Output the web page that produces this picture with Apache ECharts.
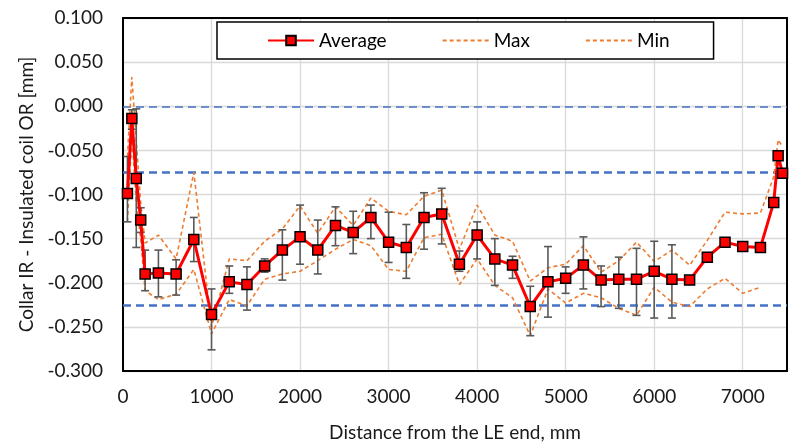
<!DOCTYPE html>
<html>
<head>
<meta charset="utf-8">
<script src="https://cdn.jsdelivr.net/npm/echarts@6/dist/echarts.min.js"></script>
<style>
html, body { margin: 0; padding: 0; background: #fff; }
#chart { width: 794px; height: 443px; }
</style>
</head>
<body>
<div id="chart"></div>
<script>
// distance from LE end, mm
var xs = [50, 100, 150, 200, 250, 400, 600, 800, 1000, 1200, 1400, 1600, 1800, 2000, 2200, 2400, 2600, 2800, 3000, 3200,
  3400, 3600, 3800, 4000, 4200, 4400, 4600, 4800, 5000, 5200, 5400, 5600, 5800, 6000, 6200, 6400, 6600, 6800, 7000, 7200,
  7350, 7400, 7450];
var avgVals = [-0.099, -0.014, -0.082, -0.129, -0.190, -0.189, -0.190, -0.151, -0.236, -0.199, -0.202, -0.181, -0.163, -0.148, -0.163, -0.135, -0.143, -0.126, -0.154, -0.160,
  -0.126, -0.122, -0.179, -0.146, -0.173, -0.180, -0.227, -0.199, -0.195, -0.180, -0.197, -0.196, -0.196, -0.187, -0.196, -0.197, -0.171, -0.154, -0.159, -0.160,
  -0.109, -0.056, -0.076];
var maxVals = [-0.057, 0.033, -0.040, -0.110, -0.155, -0.146, -0.173, -0.075, -0.250, -0.173, -0.175, -0.153, -0.139, -0.113, -0.144, -0.114, -0.135, -0.104, -0.119, -0.123,
  -0.102, -0.095, -0.162, -0.112, -0.146, -0.153, -0.198, -0.183, -0.179, -0.158, -0.188, -0.175, -0.154, -0.176, -0.163, -0.180, -0.152, -0.120, -0.122, -0.121,
  -0.080, -0.038, -0.046];
var minVals = [-0.131, -0.030, -0.110, -0.150, -0.209, -0.219, -0.213, -0.185, -0.258, -0.219, -0.226, -0.196, -0.190, -0.187, -0.175, -0.162, -0.151, -0.158, -0.185, -0.187,
  -0.149, -0.145, -0.202, -0.173, -0.203, -0.217, -0.260, -0.207, -0.223, -0.212, -0.217, -0.229, -0.237, -0.205, -0.222, -0.227, -0.207, -0.195, -0.212, -0.205,
  null, null, null];
// error bar ends (null = no bar)
var errHi = [-0.057, -0.004, -0.003, -0.115, -0.163, -0.163, -0.174, -0.126, -0.207, -0.181, -0.182, -0.173, -0.140, -0.112, -0.129, -0.114, -0.119, -0.112, -0.120, -0.134,
  -0.098, -0.093, -0.164, -0.131, -0.150, -0.170, -0.204, -0.159, -0.182, -0.148, -0.181, -0.171, -0.161, -0.153, -0.157, null, null, null, null, null,
  null, null, null];
var errLo = [-0.131, -0.026, -0.160, -0.143, -0.209, -0.216, -0.214, -0.176, -0.276, -0.212, -0.231, -0.188, -0.197, -0.179, -0.190, -0.158, -0.167, -0.150, -0.177, -0.195,
  -0.162, -0.156, -0.187, -0.173, -0.203, -0.195, -0.260, -0.239, -0.212, -0.207, -0.227, -0.229, -0.237, -0.240, -0.240, null, null, null, null, null,
  null, null, null];
var refLines = [0, -0.075, -0.225];
var seriesNames = ['Average', 'Max', 'Min'];

var FONT = 'Lato, "Open Sans", sans-serif';
var FS = 19;

function pairs(vals) {
  return xs.map(function (x, i) { return [x, vals[i]]; });
}
var errData = [];
xs.forEach(function (x, i) {
  if (errHi[i] != null) errData.push([x, errLo[i], errHi[i]]);
});

var myChart = echarts.init(document.getElementById('chart'));
var option = {
  animation: false,
  textStyle: { fontFamily: FONT },
  grid: { left: 123, right: 7, top: 18, bottom: 72, outerBoundsMode: 'none' },
  legend: {
    data: seriesNames.map(function (n, i) {
      // dashed series: show only the line in the legend
      return i === 0 ? { name: n } : { name: n, itemStyle: { opacity: 0 } };
    }),
    left: 217,
    top: 22,
    padding: [9, 44, 9, 50],
    itemGap: 55,
    itemWidth: 46,
    itemHeight: 12,
    backgroundColor: '#fff',
    borderColor: '#000',
    borderWidth: 1.5,
    textStyle: { fontFamily: FONT, fontSize: FS, color: '#000' }
  },
  xAxis: [{
    type: 'value',
    min: 0,
    max: 7500,
    interval: 1000,
    name: 'Distance from the LE end, mm',
    nameLocation: 'middle',
    nameGap: 52,
    nameTextStyle: { fontFamily: FONT, fontSize: FS, color: '#1a1a1a' },
    axisLine: { show: true, onZero: false, lineStyle: { color: '#000', width: 2 } },
    axisTick: { show: false },
    axisLabel: {
      fontFamily: FONT, fontSize: FS, color: '#1a1a1a', margin: 16, showMaxLabel: false,
      formatter: function (v) { return String(Math.round(v)); }
    },
    splitLine: { show: true, lineStyle: { color: '#d9d9d9', width: 1.3 } }
  }, {
    type: 'value',
    min: 0,
    max: 7500,
    position: 'top',
    axisLine: { show: true, onZero: false, lineStyle: { color: '#000', width: 2 } },
    axisTick: { show: false },
    axisLabel: { show: false },
    splitLine: { show: false }
  }],
  yAxis: [{
    type: 'value',
    min: -0.3,
    max: 0.1,
    interval: 0.05,
    name: 'Collar IR - Insulated coil OR [mm]',
    nameLocation: 'middle',
    nameGap: 86,
    nameTextStyle: { fontFamily: FONT, fontSize: FS, color: '#1a1a1a' },
    axisLine: { show: true, onZero: false, lineStyle: { color: '#000', width: 2 } },
    axisTick: { show: false },
    axisLabel: {
      fontFamily: FONT, fontSize: FS, color: '#1a1a1a', margin: 20,
      formatter: function (v) { return Math.abs(v) < 1e-9 ? '0.000' : v.toFixed(3); }
    },
    splitLine: { show: true, lineStyle: { color: '#d9d9d9', width: 1.3 } }
  }, {
    type: 'value',
    min: -0.3,
    max: 0.1,
    position: 'right',
    axisLine: { show: true, onZero: false, lineStyle: { color: '#000', width: 2 } },
    axisTick: { show: false },
    axisLabel: { show: false },
    splitLine: { show: false }
  }],
  series: [
    {
      name: 'Max',
      type: 'line',
      data: pairs(maxVals),
      symbol: 'none',
      z: 3,
      lineStyle: { color: '#ED7D31', width: 1.6, type: [4, 3] },
      itemStyle: { color: '#ED7D31' }
    },
    {
      name: 'Min',
      type: 'line',
      data: pairs(minVals),
      symbol: 'none',
      connectNulls: false,
      z: 3,
      lineStyle: { color: '#ED7D31', width: 1.6, type: [4, 3] },
      itemStyle: { color: '#ED7D31' }
    },
    {
      name: 'errors',
      type: 'custom',
      z: 4,
      silent: true,
      encode: { x: 0, y: [1, 2] },
      data: errData,
      renderItem: function (params, api) {
        var x = api.value(0);
        var lo = api.coord([x, api.value(1)]);
        var hi = api.coord([x, api.value(2)]);
        var w = 4;
        var st = { stroke: '#595959', lineWidth: 1.6 };
        return {
          type: 'group',
          children: [
            { type: 'line', shape: { x1: hi[0], y1: hi[1], x2: lo[0], y2: lo[1] }, style: st },
            { type: 'line', shape: { x1: hi[0] - w, y1: hi[1], x2: hi[0] + w, y2: hi[1] }, style: st },
            { type: 'line', shape: { x1: lo[0] - w, y1: lo[1], x2: lo[0] + w, y2: lo[1] }, style: st }
          ]
        };
      }
    },
    {
      name: 'Average',
      type: 'line',
      data: pairs(avgVals),
      symbol: 'rect',
      symbolSize: 10,
      z: 5,
      lineStyle: { color: '#FF0000', width: 3 },
      itemStyle: { color: '#FF0000', borderColor: '#000', borderWidth: 1.5 },
      markLine: {
        silent: true,
        symbol: 'none',
        precision: 4,
        label: { show: false },
        z: 2,
        data: refLines.map(function (v, i) {
          return {
            yAxis: v,
            lineStyle: { color: '#4472C4', type: [8, 5], width: i === 0 ? 1.6 : 2.6 }
          };
        })
      }
    }
  ]
};
myChart.setOption(option);
</script>
</body>
</html>
